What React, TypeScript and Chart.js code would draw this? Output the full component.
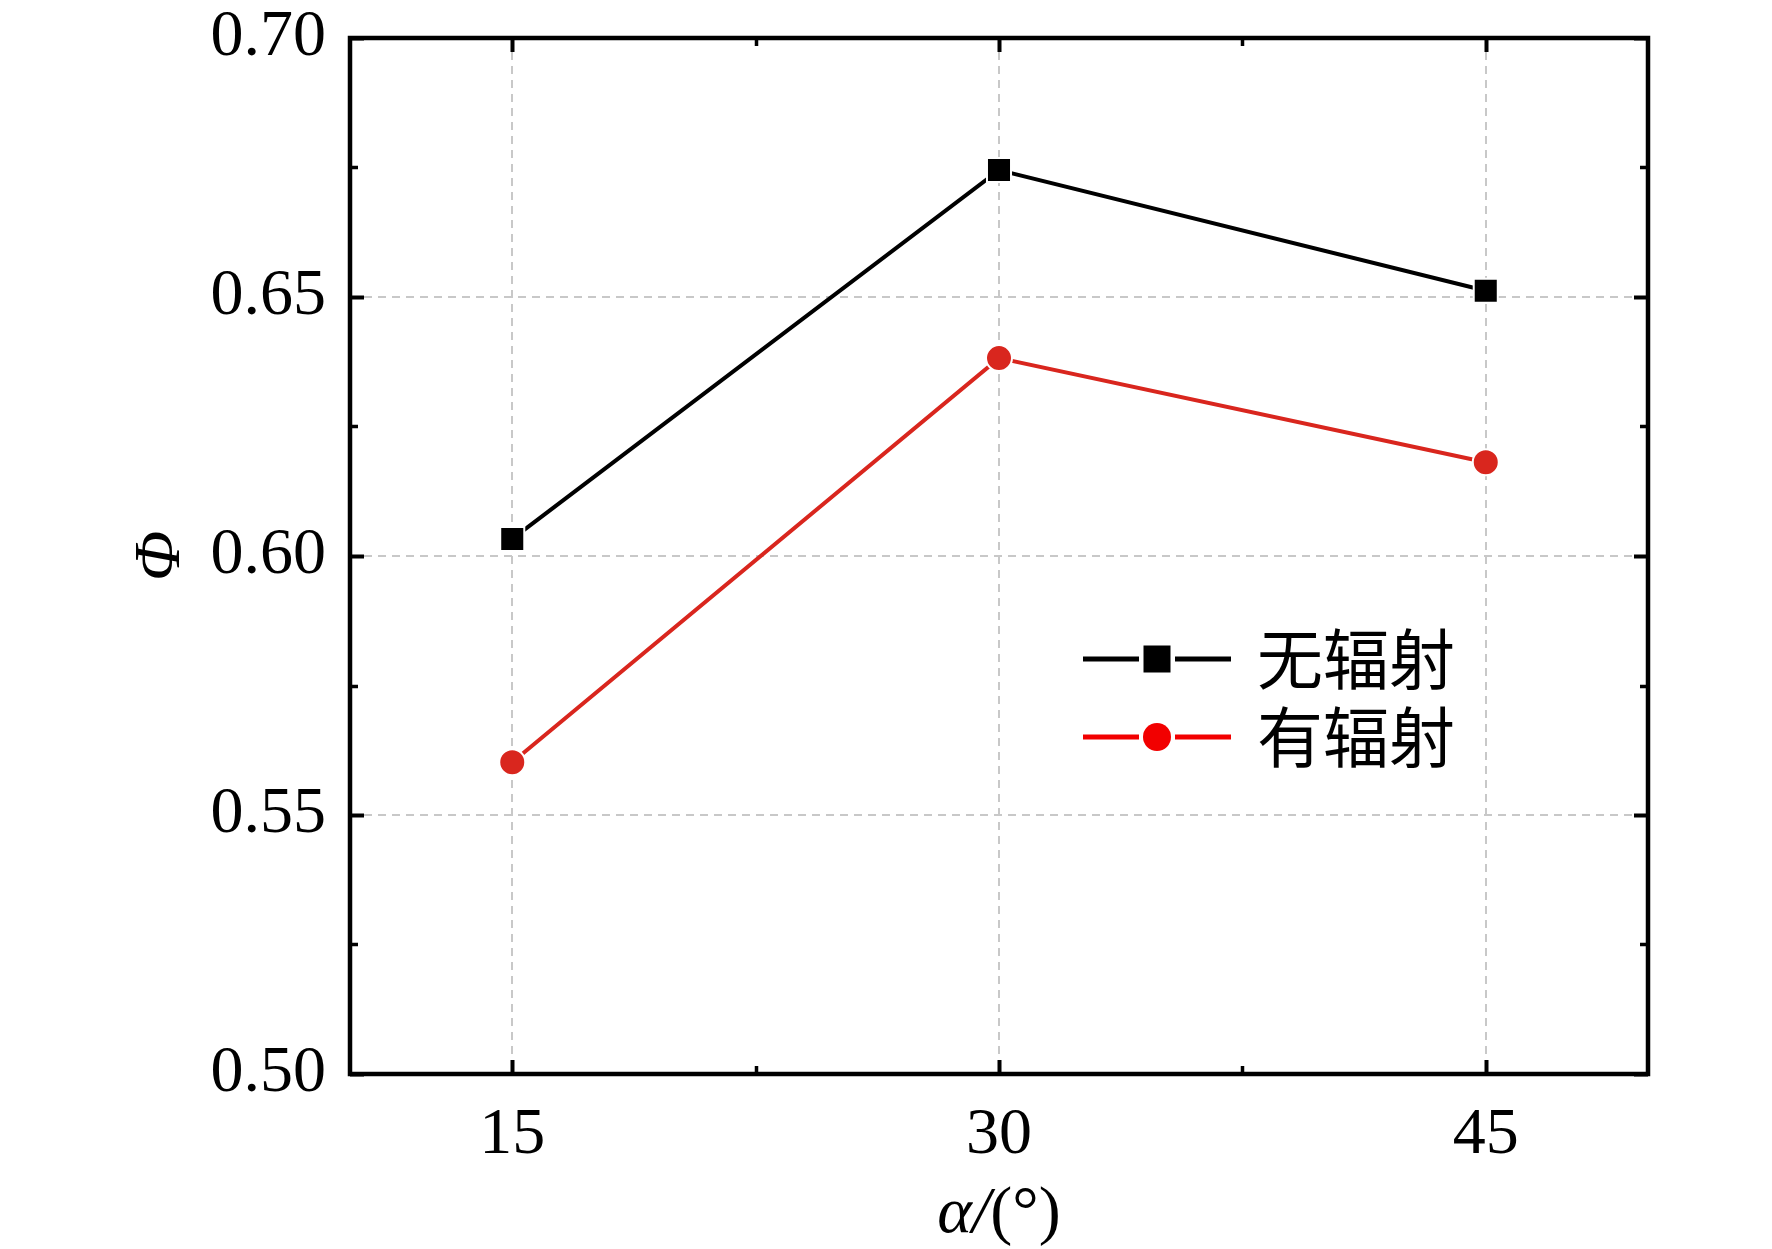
import { useEffect, useRef } from "react";
import { Chart, registerables } from "chart.js";

Chart.register(...registerables);

const angles = [15, 30, 45];
const noRadiation = [0.6033, 0.6745, 0.6512];
const withRadiation = [0.5602, 0.6382, 0.6181];
const seriesNames = ["无辐射", "有辐射"];
const seriesColors = ["#000000", "#d9261e"];
const legendColors = ["#000000", "#f20000"];
const xMajorTicks = [15, 30, 45];
const xMinorTicks = [22.5, 37.5];
const yMajorTicks = [0.5, 0.55, 0.6, 0.65, 0.7];
const yMinorTicks = [0.525, 0.575, 0.625, 0.675];

const SERIF = '"Liberation Serif", Tinos, "Times New Roman", Times, serif';
const CJK = '"Noto Sans CJK SC", sans-serif';

// frame + inward ticks on all four sides, like Origin
const framePlugin = {
  id: "frame",
  afterDraw(chart: any) {
    const { ctx, chartArea: a, scales } = chart;
    const xs = scales.x;
    const ys = scales.y;
    ctx.save();
    ctx.strokeStyle = "#000";
    ctx.lineCap = "butt";

    const drawX = (vals: number[], len: number, w: number) => {
      ctx.lineWidth = w;
      vals.forEach((v) => {
        const px = Math.round(xs.getPixelForValue(v)) + 0.5;
        ctx.beginPath();
        ctx.moveTo(px, a.bottom);
        ctx.lineTo(px, a.bottom - len);
        ctx.moveTo(px, a.top);
        ctx.lineTo(px, a.top + len);
        ctx.stroke();
      });
    };
    const drawY = (vals: number[], len: number, w: number) => {
      ctx.lineWidth = w;
      vals.forEach((v) => {
        const py = Math.round(ys.getPixelForValue(v)) + 0.5;
        ctx.beginPath();
        ctx.moveTo(a.left, py);
        ctx.lineTo(a.left + len, py);
        ctx.moveTo(a.right, py);
        ctx.lineTo(a.right - len, py);
        ctx.stroke();
      });
    };

    drawX(xMajorTicks, 14, 4);
    drawX(xMinorTicks, 8, 3.5);
    drawY(yMajorTicks, 14, 4);
    drawY(yMinorTicks, 8, 3.5);

    ctx.lineWidth = 4.5;
    ctx.strokeRect(a.left, a.top, a.right - a.left, a.bottom - a.top);

    // axis titles
    ctx.fillStyle = "#000";
    ctx.textBaseline = "middle";
    const cx = (a.left + a.right) / 2;
    const ty = a.bottom + 141;
    ctx.font = `italic 66px ${SERIF}`;
    const p1 = "α/";
    const w1 = ctx.measureText(p1).width;
    ctx.font = `66px ${SERIF}`;
    const p2 = "(°)";
    const w2 = ctx.measureText(p2).width;
    const sx = cx - (w1 + w2) / 2;
    ctx.textAlign = "left";
    ctx.font = `italic 66px ${SERIF}`;
    ctx.fillText(p1, sx, ty);
    ctx.font = `66px ${SERIF}`;
    ctx.fillText(p2, sx + w1, ty);

    ctx.save();
    ctx.translate(a.left - 188, (a.top + a.bottom) / 2);
    ctx.rotate(-Math.PI / 2);
    ctx.textAlign = "center";
    ctx.font = `italic 66px ${SERIF}`;
    ctx.fillText("Φ", 0, 0);
    ctx.restore();

    ctx.restore();
  },
};

// legend: line - marker - line, then label
const legendPlugin = {
  id: "lineLegend",
  afterDraw(chart: any) {
    const { ctx, chartArea: a } = chart;
    const x0 = a.left + 733;
    const rowY = [a.top + 621, a.top + 699];
    ctx.save();
    chart.data.datasets.forEach((ds: any, i: number) => {
      const y = rowY[i];
      const c = legendColors[i];
      ctx.strokeStyle = c;
      ctx.fillStyle = c;
      ctx.lineWidth = 5;
      ctx.beginPath();
      ctx.moveTo(x0, y);
      ctx.lineTo(x0 + 56, y);
      ctx.moveTo(x0 + 92, y);
      ctx.lineTo(x0 + 148, y);
      ctx.stroke();
      const mx = x0 + 74;
      if (ds.pointStyle === "rect") {
        ctx.fillRect(mx - 13.5, y - 13.5, 27, 27);
      } else {
        ctx.beginPath();
        ctx.arc(mx, y, 14, 0, Math.PI * 2);
        ctx.fill();
      }
      ctx.fillStyle = "#000";
      ctx.font = `66px ${CJK}`;
      ctx.textAlign = "left";
      ctx.textBaseline = "middle";
      ctx.fillText(ds.label, x0 + 174, y);
    });
    ctx.restore();
  },
};

export default function App() {
  const canvasRef = useRef<HTMLCanvasElement | null>(null);
  const chartRef = useRef<Chart | null>(null);

  useEffect(() => {
    document.body.style.margin = "0";
    let cancelled = false;

    const gridStyle = {
      color: "#c8c8c8",
      lineWidth: 2,
      drawTicks: false,
    };

    const build = () => {
      if (cancelled || !canvasRef.current) {
        return;
      }
      if (chartRef.current) {
        chartRef.current.destroy();
      }
      chartRef.current = new Chart(canvasRef.current, {
        type: "line",
        data: {
          datasets: [
            {
              label: seriesNames[0],
              data: angles.map((x, i) => ({ x, y: noRadiation[i] })),
              borderColor: seriesColors[0],
              backgroundColor: seriesColors[0],
              borderWidth: 4,
              pointStyle: "rect",
              pointRadius: 17,
              pointBorderColor: "#ffffff",
              pointBorderWidth: 2,
              tension: 0,
            },
            {
              label: seriesNames[1],
              data: angles.map((x, i) => ({ x, y: withRadiation[i] })),
              borderColor: seriesColors[1],
              backgroundColor: seriesColors[1],
              borderWidth: 4,
              pointStyle: "circle",
              pointRadius: 13,
              pointBorderColor: "#ffffff",
              pointBorderWidth: 2,
              tension: 0,
            },
          ],
        },
        options: {
          animation: false,
          responsive: true,
          maintainAspectRatio: false,
          plugins: {
            legend: { display: false },
            tooltip: { enabled: false },
          },
          layout: {
            autoPadding: false,
            padding: { top: 38, right: 124, left: 0, bottom: 0 },
          },
          scales: {
            x: {
              type: "linear",
              min: 10,
              max: 50,
              afterBuildTicks: (scale: any) => {
                scale.ticks = xMajorTicks.map((value) => ({ value }));
              },
              afterFit: (scale: any) => {
                scale.height = 175;
                scale.paddingLeft = 0;
                scale.paddingRight = 0;
              },
              grid: gridStyle,
              border: { display: false, dash: [8, 6] },
              ticks: {
                color: "#000",
                padding: 22,
                maxRotation: 0,
                font: { family: SERIF, size: 66, lineHeight: 1.2 },
                callback: (v: any) => String(v),
              },
            },
            y: {
              type: "linear",
              min: 0.5,
              max: 0.7,
              afterBuildTicks: (scale: any) => {
                scale.ticks = yMajorTicks.map((value) => ({ value }));
              },
              afterFit: (scale: any) => {
                scale.width = 350;
                scale.paddingTop = 0;
                scale.paddingBottom = 0;
              },
              grid: gridStyle,
              border: { display: false, dash: [8, 6] },
              ticks: {
                color: "#000",
                padding: 24,
                font: { family: SERIF, size: 66, lineHeight: 1 },
                callback: (v: any) => Number(v).toFixed(2),
              },
            },
          },
        },
        plugins: [framePlugin, legendPlugin],
      });
    };

    const fonts = (document as any).fonts;
    if (fonts && fonts.load) {
      Promise.all([
        fonts.load('66px "Liberation Serif"'),
        fonts.load('italic 66px "Liberation Serif"'),
        fonts.load('66px "Noto Sans CJK SC"', "无辐射有"),
      ])
        .catch(() => null)
        .then(build);
    } else {
      build();
    }

    return () => {
      cancelled = true;
      chartRef.current?.destroy();
      chartRef.current = null;
    };
  }, []);

  return (
    <div style={{ width: 1772, height: 1249, position: "relative", background: "#fff" }}>
      <canvas ref={canvasRef} />
    </div>
  );
}
